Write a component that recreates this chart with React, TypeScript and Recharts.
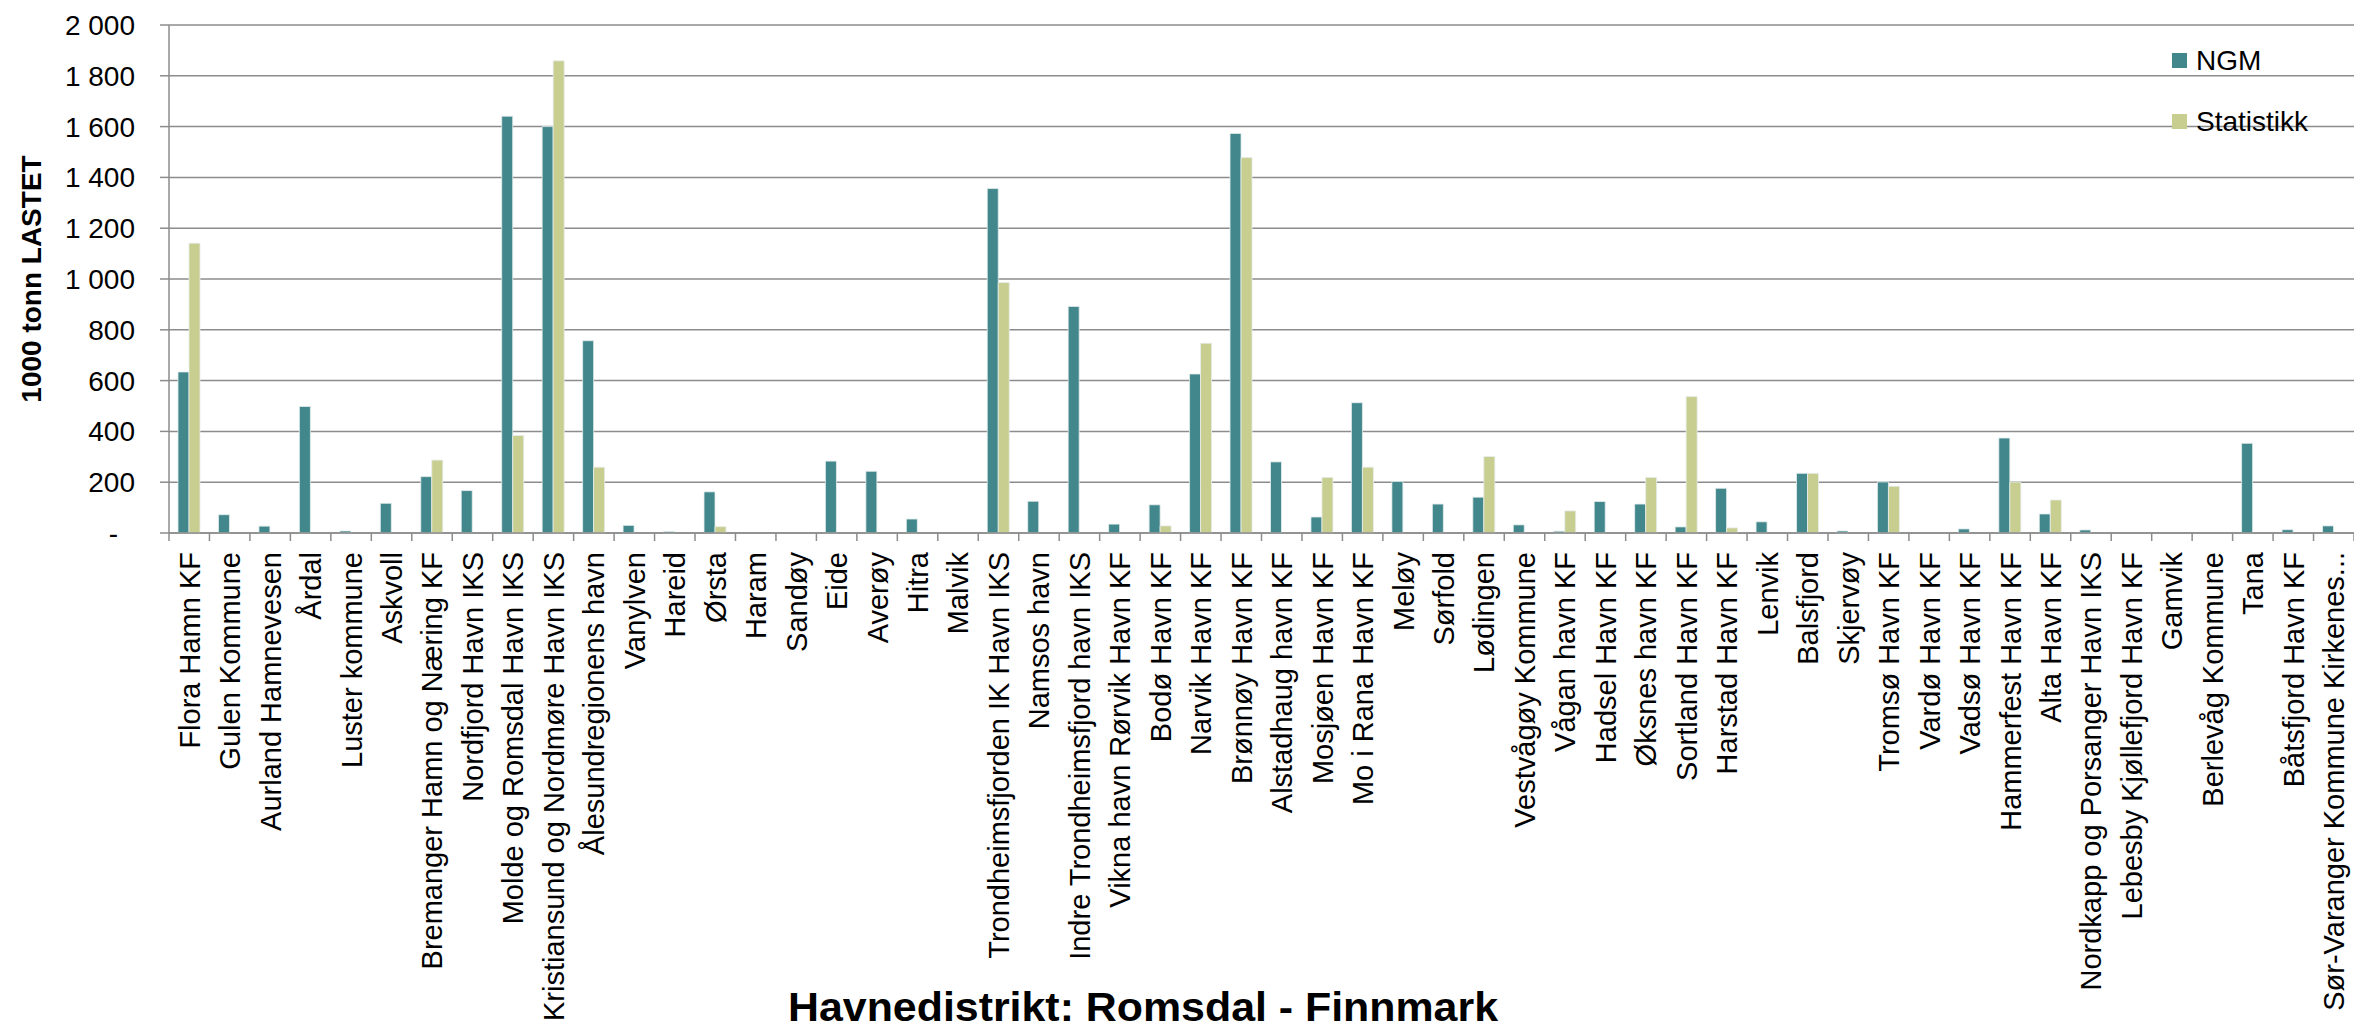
import { BarChart, Bar, XAxis, YAxis, CartesianGrid } from 'recharts';

// havnedistrikt, in chart order
const categories = [
  'Flora Hamn KF', 'Gulen Kommune', 'Aurland Hamnevesen', 'Årdal', 'Luster kommune', 'Askvoll',
  'Bremanger Hamn og Næring KF', 'Nordfjord Havn IKS', 'Molde og Romsdal Havn IKS',
  'Kristiansund og Nordmøre Havn IKS', 'Ålesundregionens havn', 'Vanylven', 'Hareid', 'Ørsta',
  'Haram', 'Sandøy', 'Eide', 'Averøy', 'Hitra', 'Malvik', 'Trondheimsfjorden IK Havn IKS',
  'Namsos havn', 'Indre Trondheimsfjord havn IKS', 'Vikna havn Rørvik Havn KF', 'Bodø Havn KF',
  'Narvik Havn KF', 'Brønnøy Havn KF', 'Alstadhaug havn KF', 'Mosjøen Havn KF', 'Mo i Rana Havn KF',
  'Meløy', 'Sørfold', 'Lødingen', 'Vestvågøy Kommune', 'Vågan havn KF', 'Hadsel Havn KF',
  'Øksnes havn KF', 'Sortland Havn KF', 'Harstad Havn KF', 'Lenvik', 'Balsfjord', 'Skjervøy',
  'Tromsø Havn KF', 'Vardø Havn KF', 'Vadsø Havn KF', 'Hammerfest Havn KF', 'Alta Havn KF',
  'Nordkapp og Porsanger Havn IKS', 'Lebesby Kjøllefjord Havn KF', 'Gamvik', 'Berlevåg Kommune',
  'Tana', 'Båtsfjord Havn KF', 'Sør-Varanger Kommune Kirkenes...',
];

// 1000 tonn lastet
const ngm = [
  634, 72, 27, 498, 8, 117, 222, 167, 1641, 1600, 757, 30, 6, 162, 0, 0, 283, 243, 55, 0,
  1356, 125, 892, 35, 111, 626, 1573, 280, 63, 513, 203, 114, 141, 32, 7, 124, 114, 24, 176, 44,
  235, 8, 201, 0, 16, 374, 75, 12, 0, 0, 0, 353, 13, 28,
];

const statistikk = [
  1141, 0, 0, 0, 0, 0, 287, 0, 384, 1859, 259, 0, 0, 25, 0, 0, 0, 0, 0, 0,
  986, 0, 0, 0, 28, 747, 1478, 0, 219, 259, 0, 0, 301, 0, 87, 0, 219, 537, 20, 0,
  235, 0, 184, 0, 0, 200, 130, 0, 0, 0, 0, 0, 0, 0,
];

const yTicks = [0, 200, 400, 600, 800, 1000, 1200, 1400, 1600, 1800, 2000];

const series = [
  { key: 'NGM', color: '#41878b' },
  { key: 'Statistikk', color: '#c8ce8f' },
];

const data = categories.map((name, i) => ({ name, NGM: ngm[i], Statistikk: statistikk[i] }));

const W = 2354;
const H = 1031;
const LEFT = 169;
const TOP = 25;
const XAXIS_H = 498;
const bandWidth = (W - LEFT) / categories.length;

const FONT = '"Liberation Sans", Arial, Helvetica, sans-serif';
const GRID = '#8c8c8c';

function fmt(v: number) {
  if (v === 0) return '-';
  if (v < 1000) return String(v);
  return `${Math.floor(v / 1000)} ${String(v % 1000).padStart(3, '0')}`;
}

function XTick(props: any) {
  const { x, y, payload, index } = props;
  const half = bandWidth / 2;
  return (
    <g>
      <line x1={x - half} x2={x - half} y1={y} y2={y + 8} stroke={GRID} strokeWidth={1.5} />
      {index === categories.length - 1 && (
        <line x1={x + half} x2={x + half} y1={y} y2={y + 8} stroke={GRID} strokeWidth={1.5} />
      )}
      <text
        transform={`translate(${x},${y + 19}) rotate(-90)`}
        textAnchor="end"
        dy="0.36em"
        fontSize={29}
        fontFamily={FONT}
        fill="#000"
      >
        {payload.value}
      </text>
    </g>
  );
}

function YTick(props: any) {
  const { x, y, payload } = props;
  const v = payload.value;
  return (
    <text x={v === 0 ? x - 17 : x} y={y} dy="0.36em" textAnchor="end" fontSize={28} fontFamily={FONT} fill="#000">
      {fmt(v)}
    </text>
  );
}

// legend sits over the plot, like the original
function LegendBox() {
  return (
    <div style={{ position: 'absolute', top: 30, left: 2172, fontFamily: FONT, fontSize: 28, color: '#000' }}>
      {series.map((s) => (
        <div key={s.key} style={{ height: 61, display: 'flex', alignItems: 'center' }}>
          <span style={{ width: 15, height: 15, background: s.color, display: 'inline-block', marginRight: 9 }} />
          <span style={{ lineHeight: '28px' }}>{s.key}</span>
        </div>
      ))}
    </div>
  );
}

export default function App() {
  return (
    <div style={{ position: 'relative', width: W, height: H, background: '#fff', overflow: 'hidden' }}>
      <style>{`body{margin:0;}`}</style>
      <BarChart
        width={W}
        height={H}
        data={data}
        margin={{ top: TOP, right: 0, left: 0, bottom: 0 }}
        barCategoryGap={9}
        barGap={0}
      >
        <CartesianGrid vertical={false} stroke={GRID} strokeWidth={1.5} />
        <XAxis
          dataKey="name"
          interval={0}
          height={XAXIS_H}
          tickSize={0}
          tickMargin={0}
          tickLine={false}
          axisLine={{ stroke: GRID, strokeWidth: 1.5 }}
          tick={<XTick />}
        />
        <YAxis
          width={LEFT}
          domain={[0, 2000]}
          ticks={yTicks}
          interval={0}
          tickSize={9}
          tickMargin={25}
          tickLine={{ stroke: GRID, strokeWidth: 1.5 }}
          axisLine={{ stroke: GRID, strokeWidth: 1.5 }}
          tick={<YTick />}
        />
        {series.map((s) => (
          <Bar key={s.key} dataKey={s.key} fill={s.color} stroke="#e6eeee" strokeWidth={0.8} isAnimationActive={false} />
        ))}
      </BarChart>
      <LegendBox />
      <svg width={W} height={H} style={{ position: 'absolute', left: 0, top: 0, pointerEvents: 'none' }}>
        <text
          transform="translate(31,279) rotate(-90)"
          textAnchor="middle"
          dy="0.36em"
          fontSize={28}
          fontWeight="bold"
          fontFamily={FONT}
          fill="#000"
        >
          1000 tonn LASTET
        </text>
        <text
          x={788}
          y={1021}
          textLength={710}
          lengthAdjust="spacingAndGlyphs"
          fontSize={40}
          fontWeight="bold"
          fontFamily={FONT}
          fill="#000"
        >
          Havnedistrikt: Romsdal - Finnmark
        </text>
      </svg>
    </div>
  );
}
